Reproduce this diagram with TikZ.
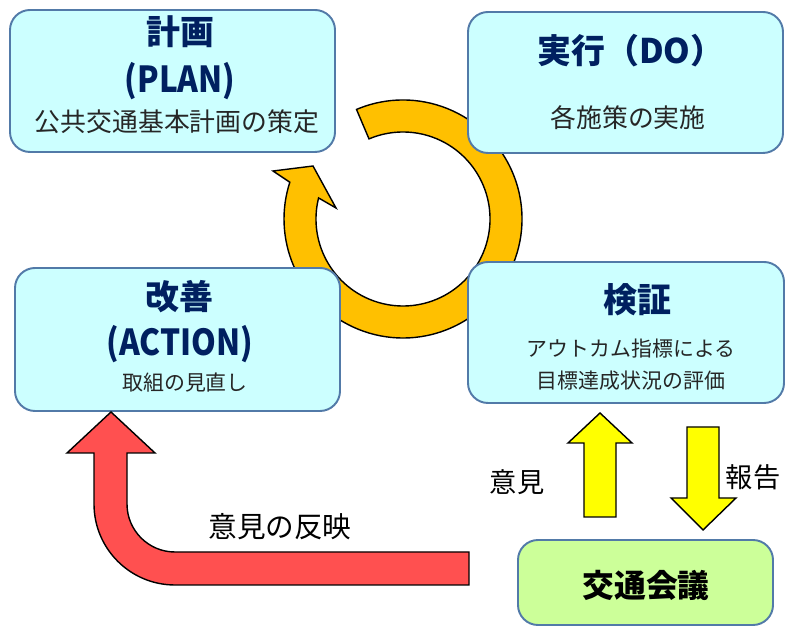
\documentclass[tikz,border=0pt]{standalone}
\usepackage{fontspec}
\setmainfont{Noto Sans CJK JP}
\usepackage{graphicx}
\usepackage{tikz}
\usetikzlibrary{calc}
\definecolor{boxfill}{RGB}{204,255,255}
\definecolor{boxline}{RGB}{82,122,168}
\definecolor{meetfill}{RGB}{204,255,153}
\definecolor{titlenavy}{RGB}{0,32,96}
\definecolor{ringgold}{RGB}{255,192,0}
\definecolor{arrowred}{RGB}{255,80,80}
\definecolor{arrowyellow}{RGB}{255,255,0}
\def\fs#1{\fontsize{#1}{#1}\selectfont}
\tikzset{
	stagebox/.style={draw=boxline, fill=boxfill, line width=1.1pt, rounded corners=4mm, inner sep=0pt},
	meetbox/.style={stagebox, fill=meetfill},
	stagetitle/.style={inner sep=0pt, text=titlenavy, font=\fs{19.3}\bfseries},
	stagelatin/.style={inner sep=0pt, text=titlenavy, font=\fs{20.4}\bfseries},
	stagebig/.style={inner sep=0pt, text=black!85, font=\fs{14.7}},
	stagesmall/.style={inner sep=0pt, text=black!85, font=\fs{11.9}},
	flowlabel/.style={inner sep=0pt, text=black, font=\fs{15.5}},
	blockarrow/.style={draw=black, line width=0.8pt, line join=miter}
}

\begin{document}
\begin{tikzpicture}[x=0.2mm, y=0.2mm]
		%%%%% START %%%%%
		\useasboundingbox (0, 0) rectangle (785, 626);
		
		% cycle ring
		\draw[blockarrow, fill=ringgold] ($(403, 407)+(113:119)$) arc[start angle=113, end angle=-198, radius=119]
			-- (273, 455) -- (313, 460) -- (336, 418)
			-- ($(403, 407)+(-194:87)$) arc[start angle=-194, end angle=113, radius=87] -- cycle;
		
		\node[stagebox, minimum width=65mm, minimum height=28.4mm] (plan) at (172.5, 545) {};
		\node[stagebox, minimum width=63mm, minimum height=28.2mm] (do) at (625.5, 543.5) {};
		\node[stagebox, minimum width=65mm, minimum height=28.6mm] (act) at (177.5, 286.5) {};
		\node[stagebox, minimum width=63.2mm, minimum height=28.2mm] (check) at (626, 293.5) {};
		\node[meetbox, minimum width=51mm, minimum height=17mm] (meeting) at (645.5, 43.5) {};
		
		\node[stagetitle] (plantitle) at (180, 594) {計画};
		\node[stagelatin] (planlatin) at (180, 545) {\scalebox{0.88}[1]{(PLAN)}};
		\node[stagebig] (plantext) at (177, 504) {公共交通基本計画の策定};
		
		\node[stagetitle] (dotitle) at (631, 575) {実行（DO）};
		\node[stagebig] (dotext) at (628, 508) {各施策の実施};
		
		\node[stagetitle] (acttitle) at (179, 329) {改善};
		\node[stagelatin] (actlatin) at (180, 282) {\scalebox{0.88}[1]{(ACTION)}};
		\node[stagesmall] (acttext) at (185, 243) {取組の見直し};
		
		\node[stagetitle] (checktitle) at (637, 326) {検証};
		\node[stagesmall] (checktexta) at (631, 277) {アウトカム指標による};
		\node[stagesmall] (checktextb) at (631, 245) {目標達成状況の評価};
		
		\node[stagetitle, text=black, font=\fs{18.1}\bfseries] (meettitle) at (646, 41) {交通会議};
		
		% feedback arrow
		\draw[blockarrow, fill=arrowred] (469, 74) -- (175, 74) arc[start angle=-90, end angle=-180, radius=48]
			-- (127, 173) -- (155, 173) -- (111, 214) -- (67, 173) -- (94, 173)
			-- (94, 122) arc[start angle=180, end angle=270, radius=81] -- (469, 41) -- cycle;
		
		\draw[blockarrow, fill=arrowyellow] (584, 109) -- (584, 183) -- (568, 183) -- (600, 213)
			-- (632, 183) -- (616, 183) -- (616, 109) -- cycle;
		\draw[blockarrow, fill=arrowyellow] (687, 199) -- (687, 128) -- (671, 128) -- (703, 96)
			-- (736, 128) -- (719, 128) -- (719, 199) -- cycle;
		
		\node[flowlabel] (opinion) at (517, 144) {意見};
		\node[flowlabel] (report) at (753, 149) {報告};
		\node[flowlabel, font=\fs{16.3}] (reflect) at (280, 99) {意見の反映};
		
		%%%%% END %%%%%
	\end{tikzpicture}
\end{document}
